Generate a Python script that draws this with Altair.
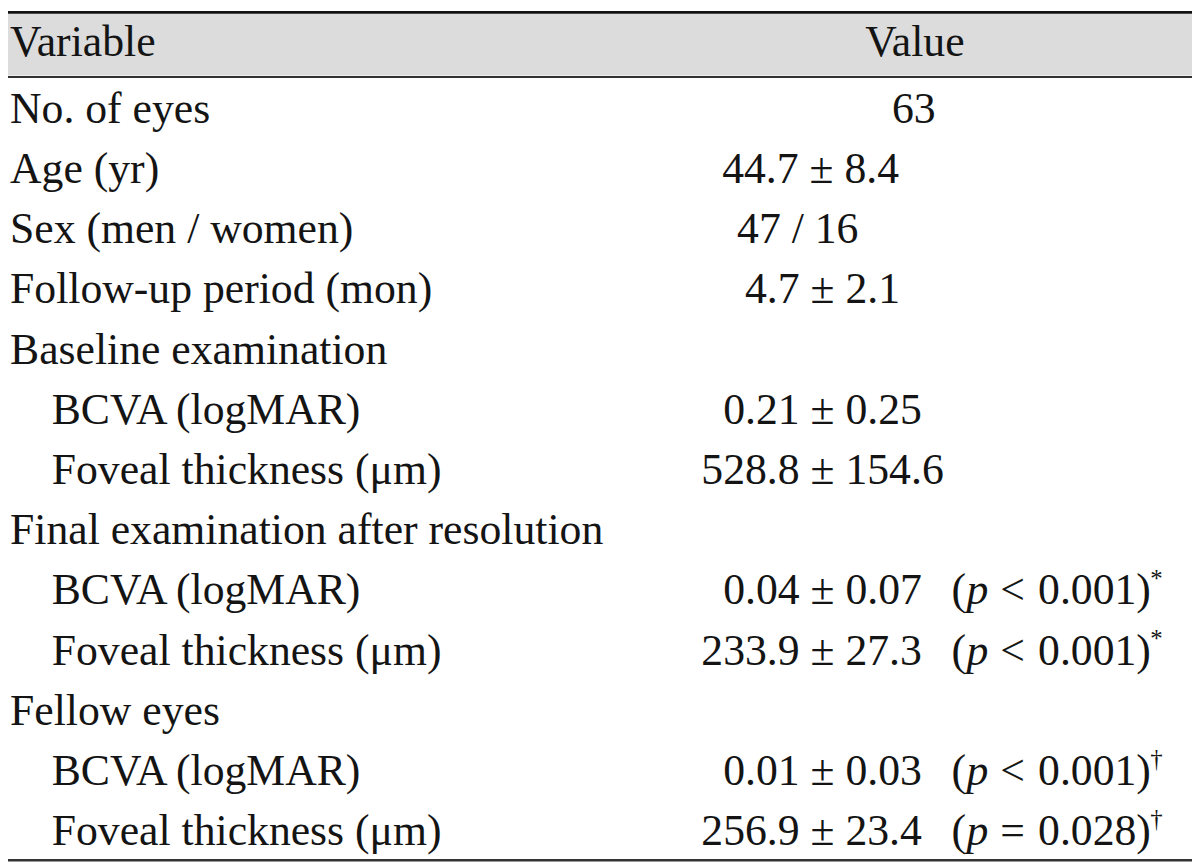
import altair as alt
import pandas as pd

# ---- table content ----
variables = [
    "No. of eyes", "Age (yr)", "Sex (men / women)", "Follow-up period (mon)",
    "Baseline examination", "BCVA (logMAR)", "Foveal thickness (μm)",
    "Final examination after resolution", "BCVA (logMAR)", "Foveal thickness (μm)",
    "Fellow eyes", "BCVA (logMAR)", "Foveal thickness (μm)",
]
indent = [0, 0, 0, 0, 0, 1, 1, 0, 1, 1, 0, 1, 1]
values = ["63", "44.7 ± 8.4", "47 / 16", "4.7 ± 2.1", "", "0.21 ± 0.25",
          "528.8 ± 154.6", "", "0.04 ± 0.07", "233.9 ± 27.3", "",
          "0.01 ± 0.03", "256.9 ± 23.4"]
p_rows = [9, 10, 12, 13]
p_ops = ["<", "<", "<", "="]
p_vals = ["0.001", "0.001", "0.001", "0.028"]
p_marks = ["*", "*", "†", "†"]
headers = ["Variable", "Value"]

# ---- layout (reference pixel positions of the value column starts) ----
value_start = [898, 727, 742, 750, 0, 728, 706, 0, 728, 706, 0, 728, 706]

W, H = 1192, 857
FONT = "Liberation Serif"
FS = 44
INK = "#141414"

rows = list(range(1, len(variables) + 1))
df = pd.DataFrame({"row": rows, "variable": variables, "indent": indent,
                   "value": values, "vpos": value_start})
dfp = pd.DataFrame({"row": p_rows,
                    "open": ["("] * len(p_rows),
                    "pit": ["p"] * len(p_rows),
                    "op": p_ops,
                    "num": [f"{v})" for v in p_vals],
                    "mark": p_marks})

yscale = alt.Scale(domain=[1, 13], range=[120.7 - 8, 848 - 8])
Y = alt.Y("row:Q", scale=yscale, axis=None)
refx = alt.Scale(domain=[0, 1200], range=[-8, 1192])

one = pd.DataFrame({"a": [0]})
band = alt.Chart(one).mark_rect(color="#dcdcdc").encode(
    x=alt.value(0), x2=alt.value(W), y=alt.value(3), y2=alt.value(65))

def rule(y, w, c):
    return alt.Chart(one).mark_rule(color=c, strokeWidth=w).encode(
        x=alt.value(0), x2=alt.value(W), y=alt.value(y))

top = rule(1.5, 3, "#111111")
mid = rule(66.5, 2, "#333333")
bot = rule(855, 2.5, "#333333")

def txt(data, align="left", size=FS, style="normal", dy=0):
    return alt.Chart(data).mark_text(font=FONT, fontSize=size, align=align, fontStyle=style,
                                     dy=dy, baseline="alphabetic", color=INK)

hdr = pd.DataFrame({"h": headers, "hx": [10, 921]})
h1 = txt(hdr.iloc[[0]]).encode(
    x=alt.X("hx:Q", scale=refx, axis=None), y=alt.value(45), text="h:N")
h2 = txt(hdr.iloc[[1]], align="center").encode(
    x=alt.X("hx:Q", scale=refx, axis=None), y=alt.value(45), text="h:N")

var_text = txt(df).encode(
    x=alt.X("indent:Q", scale=alt.Scale(domain=[0, 1], range=[2, 44]), axis=None),
    y=Y, text="variable:N")

val_text = txt(df).encode(
    x=alt.X("vpos:Q", scale=refx, axis=None), y=Y, text="value:N")

p_open = txt(dfp).encode(x=alt.value(958 - 8), y=Y, text="open:N")
p_it = txt(dfp, style="italic").encode(x=alt.value(973 - 8), y=Y, text="pit:N")
p_op = txt(dfp).encode(x=alt.value(1007 - 8), y=Y, text="op:N")
p_num = txt(dfp).encode(x=alt.value(1045 - 8), y=Y, text="num:N")
p_mark = txt(dfp, size=25, dy=-18).encode(x=alt.value(1158 - 8), y=Y, text="mark:N")

chart = alt.layer(band, top, mid, bot, h1, h2, var_text, val_text,
                  p_open, p_it, p_op, p_num, p_mark).resolve_scale(x="independent").properties(
    width=W, height=H, padding=0, autosize=alt.AutoSizeParams(type="none")
).configure_view(strokeWidth=0)

chart.save("out.html", embed_options={"renderer": "svg", "actions": False})
